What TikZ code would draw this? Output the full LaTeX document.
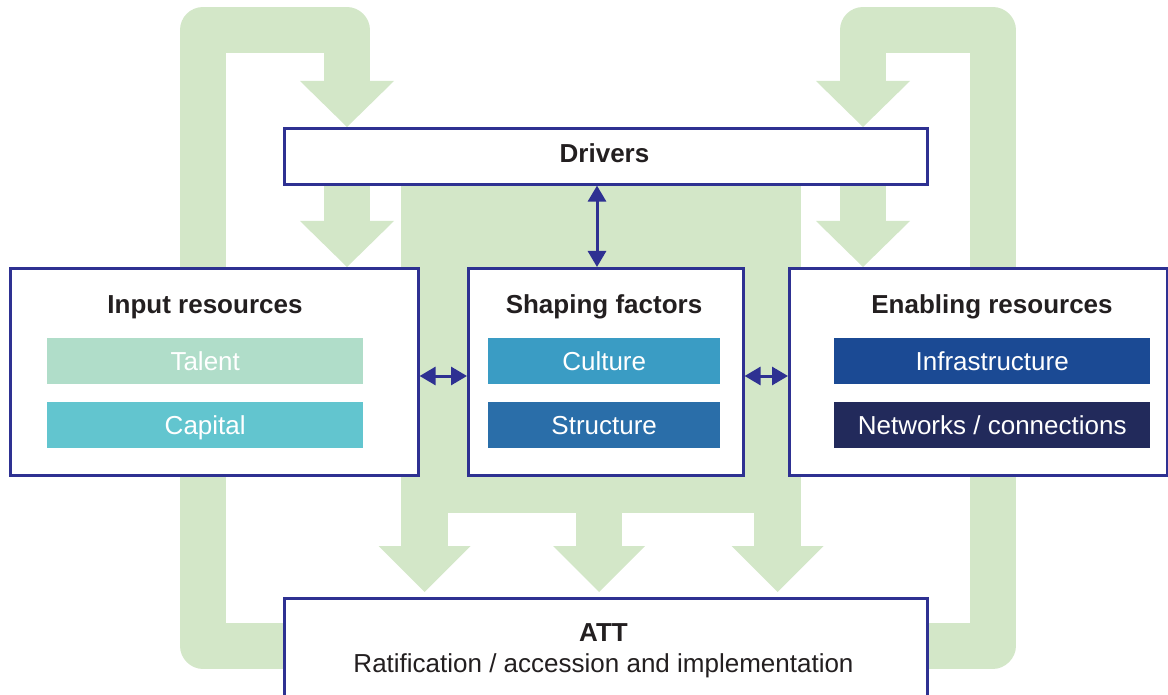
\documentclass[tikz,border=0pt]{standalone}
\usepackage{fontspec}
\setmainfont{Liberation Sans}
\usetikzlibrary{arrows.meta,calc}

\definecolor{flowgreen}{HTML}{D3E7C8}
\definecolor{frame}{HTML}{2E3192}
\definecolor{ink}{HTML}{231F20}
\definecolor{talentc}{HTML}{B0DDC9}
\definecolor{capitalc}{HTML}{62C5CF}
\definecolor{culturec}{HTML}{3A9CC4}
\definecolor{structurec}{HTML}{2A6EA9}
\definecolor{infrac}{HTML}{1B4A94}
\definecolor{networkc}{HTML}{222A5B}

\begin{document}
\begin{tikzpicture}[x=1pt,y=-1pt,
  panel/.style={draw=frame, line width=2.6pt, fill=white, inner sep=0pt, anchor=north west},
  bar/.style={inner sep=0pt, anchor=north west, minimum height=46pt, text=white,
    font=\fontsize{26}{30}\selectfont, text height=18.6pt, text depth=0pt},
  title/.style={anchor=base, text=ink, font=\fontsize{26}{30}\selectfont\bfseries},
  plain/.style={anchor=base, text=ink, font=\fontsize{26}{30}\selectfont},
  loopband/.style={draw=flowgreen, line width=46pt, line join=round, line cap=butt},
  flow/.style={fill=flowgreen, draw=none},
  link/.style={draw=frame, line width=3pt,
    {Triangle[length=16pt,width=18pt]}-{Triangle[length=16pt,width=18pt]}}
]
\useasboundingbox (0,0) rectangle (1168,695);
\clip (0,0) rectangle (1168,695);

% feedback loops behind the panels
\draw[loopband] (310,645.5) -- (203,645.5) -- (203,30) -- (346.5,30) -- (346.5,82);
\draw[loopband] (900,645.5) -- (992.5,645.5) -- (992.5,30) -- (863,30) -- (863,82);

% central field
\fill[flow] (401,170) rectangle (801,513);
% stems below the drivers
\fill[flow] (324,170) rectangle (370,222);
\fill[flow] (840,170) rectangle (886,222);
% stems into ATT
\fill[flow] (401,500) rectangle (448,547);
\fill[flow] (576,500) rectangle (622,547);
\fill[flow] (754,500) rectangle (801,547);

% panels
\node[panel, minimum width=643pt, minimum height=56pt] (drv) at (283,127) {};
\node[panel, minimum width=408pt, minimum height=207pt] (inp) at (9,267) {};
\node[panel, minimum width=275pt, minimum height=207pt] (sha) at (467,267) {};
\node[panel, minimum width=378pt, minimum height=207pt] (ena) at (788,267) {};
\node[panel, minimum width=643pt, minimum height=130pt] (att) at (283,597) {};

% reference lines for heads and connectors
\coordinate (lx) at (347,0);
\coordinate (rx) at (863,0);
\coordinate (ax) at (424.5,0);
\coordinate (bx) at (599,0);
\coordinate (cx) at (777.5,0);
\coordinate (vx) at (597,0);
\coordinate (hy) at (0,376);

% green arrow heads
\foreach \t in {(lx |- drv.north), (rx |- drv.north), (lx |- inp.north), (rx |- ena.north)}{
  \fill[flow] \t ++(-47,-46) -- \t -- ++(47,-46) -- cycle;
}
\foreach \t in {(ax |- att.north), (bx |- att.north), (cx |- att.north)}{
  \fill[flow] \t ++(-46,-51) -- ++(46,46) -- ++(46,-46) -- cycle;
}

% titles and labels
\node[title] (drvT) at (604.5,163) {Drivers};
\node[title] (inpT) at (205,313) {Input resources};
\node[title] (shaT) at (604,313) {Shaping factors};
\node[title] (enaT) at (992,313) {Enabling resources};
\node[title] (attT) at (603.5,641) {ATT};
\node[plain] (attS) at (603.5,672) {Ratification / accession and implementation};

% resource bars
\node[bar, fill=talentc, minimum width=316pt] (tal) at (47,338) {Talent};
\node[bar, fill=capitalc, minimum width=316pt] (cap) at (47,402) {Capital};
\node[bar, fill=culturec, minimum width=232pt] (cul) at (488,338) {Culture};
\node[bar, fill=structurec, minimum width=232pt] (str) at (488,402) {Structure};
\node[bar, fill=infrac, minimum width=316pt] (inf) at (834,338) {Infrastructure};
\node[bar, fill=networkc, minimum width=316pt] (net) at (834,402) {Networks / connections};

% two-way links
\draw[link] (drv.south -| vx) -- (sha.north -| vx);
\draw[link] (inp.east |- hy) -- (sha.west |- hy);
\draw[link] (sha.east |- hy) -- (ena.west |- hy);
\end{tikzpicture}
\end{document}
